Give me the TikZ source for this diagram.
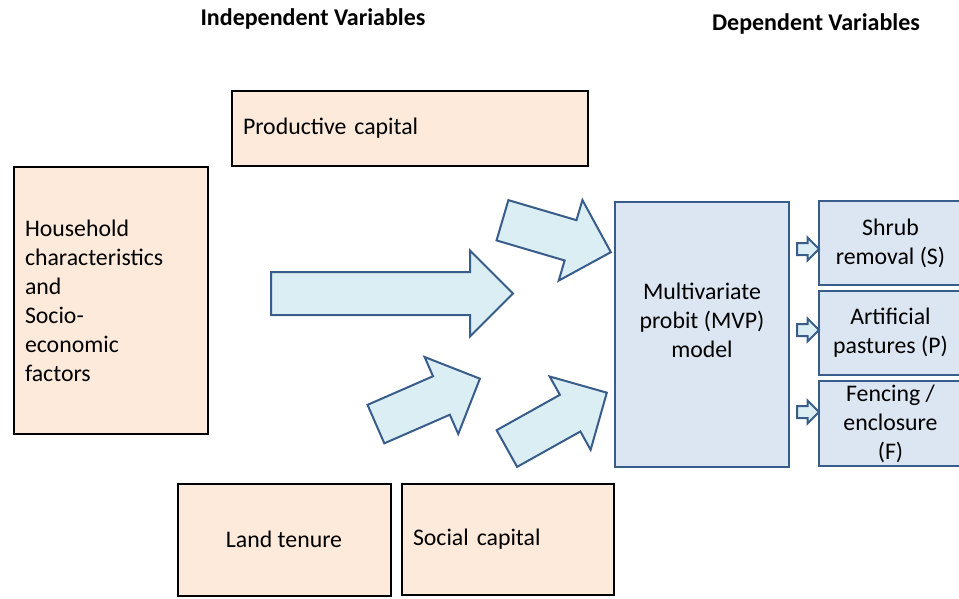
\documentclass[tikz,border=0pt]{standalone}
\usepackage{fontspec}
\setmainfont{Carlito}
\usepackage{xcolor}
\usepackage{tikz}
\usetikzlibrary{positioning}
\usetikzlibrary{shapes, arrows}
\definecolor{peach}{HTML}{FDEADA}
\definecolor{paleblue}{HTML}{DCE6F2}
\definecolor{aqua}{HTML}{DBEEF4}
\definecolor{navy}{HTML}{385D8A}
\tikzstyle{ivar} = [rectangle, draw=black, fill=peach, line width=2pt, inner sep=11pt, font=\fontsize{23.8}{29}\selectfont]
\tikzstyle{dvar} = [rectangle, draw=navy, fill=paleblue, line width=2pt, inner sep=4pt, align=center, font=\fontsize{23.8}{29}\selectfont]
\tikzstyle{bigarrow} = [single arrow, draw=navy, fill=aqua, line width=2pt, anchor=tail, inner xsep=0pt, minimum width=0pt]
\tikzstyle{heading} = [font=\fontsize{24}{28}\selectfont\bfseries]

\begin{document}
\begin{tikzpicture}[x=1pt,y=-1pt]
      \useasboundingbox (0,0) rectangle (959,598);
      %%%%%%%%%%%%%%%%%%%%%%%%%%%%%%%%%%%%%%%
      \draw (313,19) node (h1) [heading] {Independent Variables};
      \draw (816,24) node (h2) [heading] {Dependent Variables};
      % independent variables
      \draw (410,128.5) node (pc) [ivar, minimum width=356pt, minimum height=75pt, text width=334pt, align=left] {Productive capital};
      \draw (111,300.5) node (hh) [ivar, minimum width=194pt, minimum height=267pt, text width=172pt, align=left] {Household\\characteristics\\and\\Socio-\\economic\\factors};
      \draw (284,539.5) node (lt) [ivar, minimum width=213pt, minimum height=112pt, align=center] {Land tenure};
      \draw (508,539) node (sc) [ivar, minimum width=212pt, minimum height=111pt, text width=190pt, align=left] {Social capital};
      % model
      \draw (702,334.5) node (mvp) [dvar, minimum width=174pt, minimum height=265pt] {};
      \draw (702,320) node (mvptext) [align=center, font=\fontsize{23.8}{29}\selectfont] {Multivariate\\probit (MVP)\\model};
      % dependent variables
      \draw (890.5,243) node (d1) [dvar, minimum width=143pt, minimum height=84pt] {Shrub\\removal (S)};
      \draw (890.5,333) node (d2) [dvar, minimum width=143pt, minimum height=84pt] {Artificial\\pastures (P)};
      \draw (890.5,423.5) node (d3) [dvar, minimum width=143pt, minimum height=85pt] {Fencing /\\enclosure\\(F)};
      % block arrows
      \draw (270,293.5) node (a1) [bigarrow, minimum height=242pt, inner ysep=20.5pt, single arrow head extend=21.5pt] {};
      \draw (501.5,220) node (a2) [bigarrow, rotate=-16.4, minimum height=113pt, inner ysep=20pt, single arrow head extend=21pt] {};
      \draw (375,424.5) node (a3) [bigarrow, rotate=23.6, minimum height=113.5pt, inner ysep=20pt, single arrow head extend=21pt] {};
      \draw (506,449) node (a4) [bigarrow, rotate=29.2, minimum height=114.5pt, inner ysep=20pt, single arrow head extend=21pt] {};
      % small arrows
      \draw (796,249) node (s1) [bigarrow, minimum height=22pt, inner ysep=5pt, single arrow head extend=5.5pt] {};
      \draw (796,330) node (s2) [bigarrow, minimum height=22pt, inner ysep=5pt, single arrow head extend=5.5pt] {};
      \draw (796,412) node (s3) [bigarrow, minimum height=22pt, inner ysep=5pt, single arrow head extend=5.5pt] {};
\end{tikzpicture}
\end{document}
